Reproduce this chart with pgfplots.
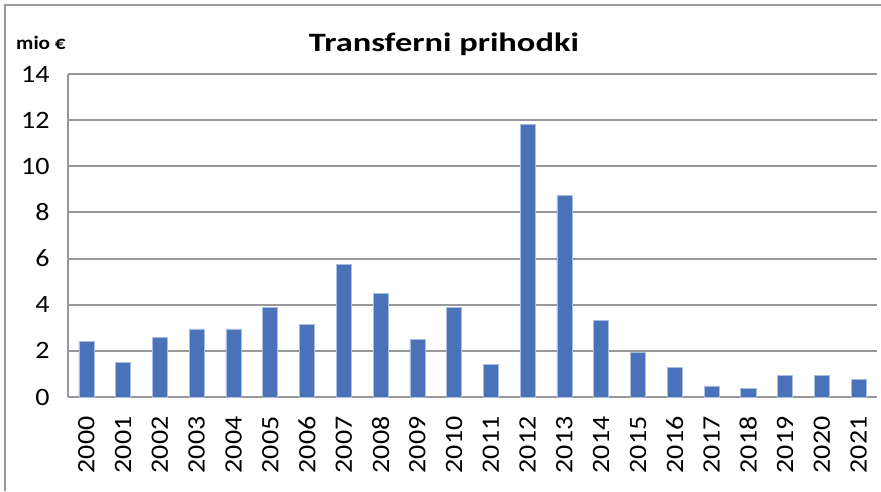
\documentclass[border=0pt]{standalone}
\usepackage{fontspec}
\setmainfont{Carlito}[FakeStretch=1.12]
\newfontfamily\titlefont{Carlito}[FakeStretch=1.3]
\usepackage{pgfplots}
\pgfplotsset{compat=1.18}
\definecolor{barblue}{RGB}{74,114,184}
\definecolor{baredge}{RGB}{170,190,225}
\definecolor{gridgray}{RGB}{152,152,156}

\begin{document}
\begin{tikzpicture}
  \begin{axis}[
    scale only axis,
    width=809pt, height=323pt,
    at={(0pt,0pt)}, anchor=south west,
    xmin=-0.5, xmax=21.5,
    ymin=0, ymax=14,
    ytick={0,2,...,14},
    xtick={0,...,21},
    xticklabels={2000,2001,2002,2003,2004,2005,2006,2007,2008,2009,2010,
                 2011,2012,2013,2014,2015,2016,2017,2018,2019,2020,2021},
    axis x line*=bottom, axis y line*=left,
    axis line style={gridgray, line width=2pt, -},
    ymajorgrids, grid style={gridgray, line width=2pt},
    major tick length=0pt,
    /pgf/number format/assume math mode=true,
    tick label style={font=\fontsize{25}{25}\selectfont},
    yticklabel style={xshift=-15pt},
    xticklabel style={rotate=90, anchor=east, xshift=-16pt},
    clip=false,
  ]
    % mio EUR
    \addplot[ybar, bar width=15pt, fill=barblue, draw=baredge, line width=0.6pt]
      coordinates {
        (0,2.4) (1,1.5) (2,2.6) (3,2.95) (4,2.95) (5,3.9) (6,3.15)
        (7,5.75) (8,4.5) (9,2.5) (10,3.9) (11,1.4) (12,11.8) (13,8.75)
        (14,3.32) (15,1.95) (16,1.3) (17,0.48) (18,0.39) (19,0.94)
        (20,0.94) (21,0.75)
      };
  \end{axis}
  \node[font=\titlefont\bfseries\fontsize{26.5}{26.5}\selectfont] at (376pt,353pt) {Transferni prihodki};
  \node[font=\bfseries\fontsize{19}{19}\selectfont, anchor=west, inner sep=0pt] at (-52pt,354pt) {mio €};
  \draw[gridgray, line width=2pt] (-63pt,-94pt) -- (-63pt,392pt) -- (813pt,392pt);
  \pgfresetboundingbox
  \path (-68pt,-94pt) rectangle (813pt,397pt);
\end{tikzpicture}
\end{document}
